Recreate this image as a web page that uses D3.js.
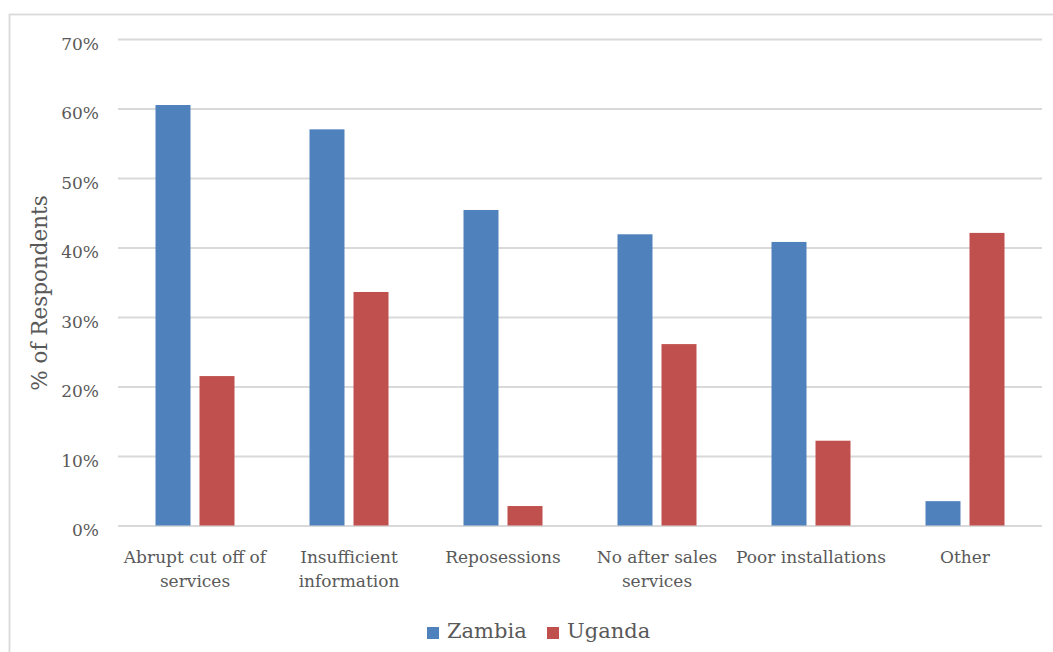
<!DOCTYPE html>
<html>
<head>
<meta charset="utf-8">
<script src="https://cdn.jsdelivr.net/npm/d3@7"></script>
<style>
  html, body { margin: 0; padding: 0; background: #fff; }
  svg { display: block; }
  text { font-family: "DejaVu Serif", "Liberation Serif", serif; fill: #595959; }
</style>
</head>
<body>
<svg id="chart" width="1053" height="652"></svg>
<script>
// Complaint categories (two-line labels split with "\n")
const categories = [
  "Abrupt cut off of\nservices",
  "Insufficient\ninformation",
  "Reposessions",
  "No after sales\nservices",
  "Poor installations",
  "Other"
];
const seriesNames = ["Zambia", "Uganda"];
const zambia = [0.605, 0.570, 0.454, 0.419, 0.408, 0.035];
const uganda = [0.215, 0.336, 0.028, 0.261, 0.122, 0.421];
const yTicks = [0, 0.1, 0.2, 0.3, 0.4, 0.5, 0.6, 0.7];
const colors = ["#4F81BD", "#C0504D"];

const seriesValues = [zambia, uganda];
const data = categories.map((c, i) => ({
  cat: c,
  values: seriesNames.map((s, j) => ({ series: s, value: seriesValues[j][i] }))
}));

const svg = d3.select("#chart");

// Chart area frame
svg.append("rect")
  .attr("x", 9.5).attr("y", 14.5)
  .attr("width", 1100).attr("height", 700)
  .attr("fill", "none")
  .attr("stroke", "#D9D9D9")
  .attr("stroke-width", 1.8);

const plot = { left: 118, right: 1042, top: 39, bottom: 525.5 };

const y = d3.scaleLinear().domain([0, 0.7]).range([plot.bottom, plot.top]);

const x0 = d3.scaleBand()
  .domain(categories)
  .range([plot.left, plot.right])
  .paddingInner(0.487)
  .paddingOuter(0.2435);

const x1 = d3.scaleBand()
  .domain(seriesNames)
  .range([0, x0.bandwidth()])
  .paddingInner(0.2045);

const color = d3.scaleOrdinal().domain(seriesNames).range(colors);

// Horizontal gridlines and y tick labels
const yAxis = d3.axisLeft(y)
  .tickValues(yTicks)
  .tickFormat(d3.format(".0%"))
  .tickSize(-(plot.right - plot.left))
  .tickPadding(19);

const yg = svg.append("g")
  .attr("transform", `translate(${plot.left},0)`)
  .call(yAxis);
yg.select(".domain").remove();
yg.selectAll(".tick line")
  .attr("stroke", "#D9D9D9")
  .attr("stroke-width", 2);
yg.selectAll(".tick text")
  .attr("font-size", 17)
  .attr("dy", 10)
  .attr("fill", "#595959")
  .style("font-family", '"DejaVu Serif", serif');

// Bars
const groups = svg.append("g")
  .selectAll("g")
  .data(data)
  .join("g")
  .attr("transform", d => `translate(${x0(d.cat)},0)`);

groups.selectAll("rect")
  .data(d => d.values)
  .join("rect")
  .attr("x", d => x1(d.series))
  .attr("width", x1.bandwidth())
  .attr("y", d => y(d.value))
  .attr("height", d => y(0) - y(d.value))
  .attr("fill", d => color(d.series));

// Category labels
const xAxis = d3.axisBottom(x0).tickSize(0).tickPadding(0);
const xg = svg.append("g")
  .attr("transform", `translate(0,${plot.bottom})`)
  .call(xAxis);
xg.select(".domain").remove();
xg.selectAll(".tick text").each(function(d) {
  const t = d3.select(this);
  t.text(null)
    .attr("y", 0)
    .attr("dy", null)
    .attr("font-size", 17)
    .attr("fill", "#595959")
    .style("font-family", '"DejaVu Serif", serif');
  d.split("\n").forEach((line, i) => {
    t.append("tspan")
      .attr("x", 0)
      .attr("y", 37.5 + i * 23.5)
      .text(line);
  });
});

// Y axis title
svg.append("text")
  .attr("transform", "translate(47,293) rotate(-90)")
  .attr("text-anchor", "middle")
  .attr("font-size", 21.5)
  .text("% of Respondents");

// Legend
const legend = svg.append("g").attr("transform", "translate(427,627)");
const legendX = [0, 120];
seriesNames.forEach((s, i) => {
  const g = legend.append("g").attr("transform", `translate(${legendX[i]},0)`);
  g.append("rect")
    .attr("width", 12).attr("height", 12)
    .attr("fill", color(s));
  g.append("text")
    .attr("x", 20).attr("y", 10.5)
    .attr("font-size", 21)
    .text(s);
});
</script>
</body>
</html>
